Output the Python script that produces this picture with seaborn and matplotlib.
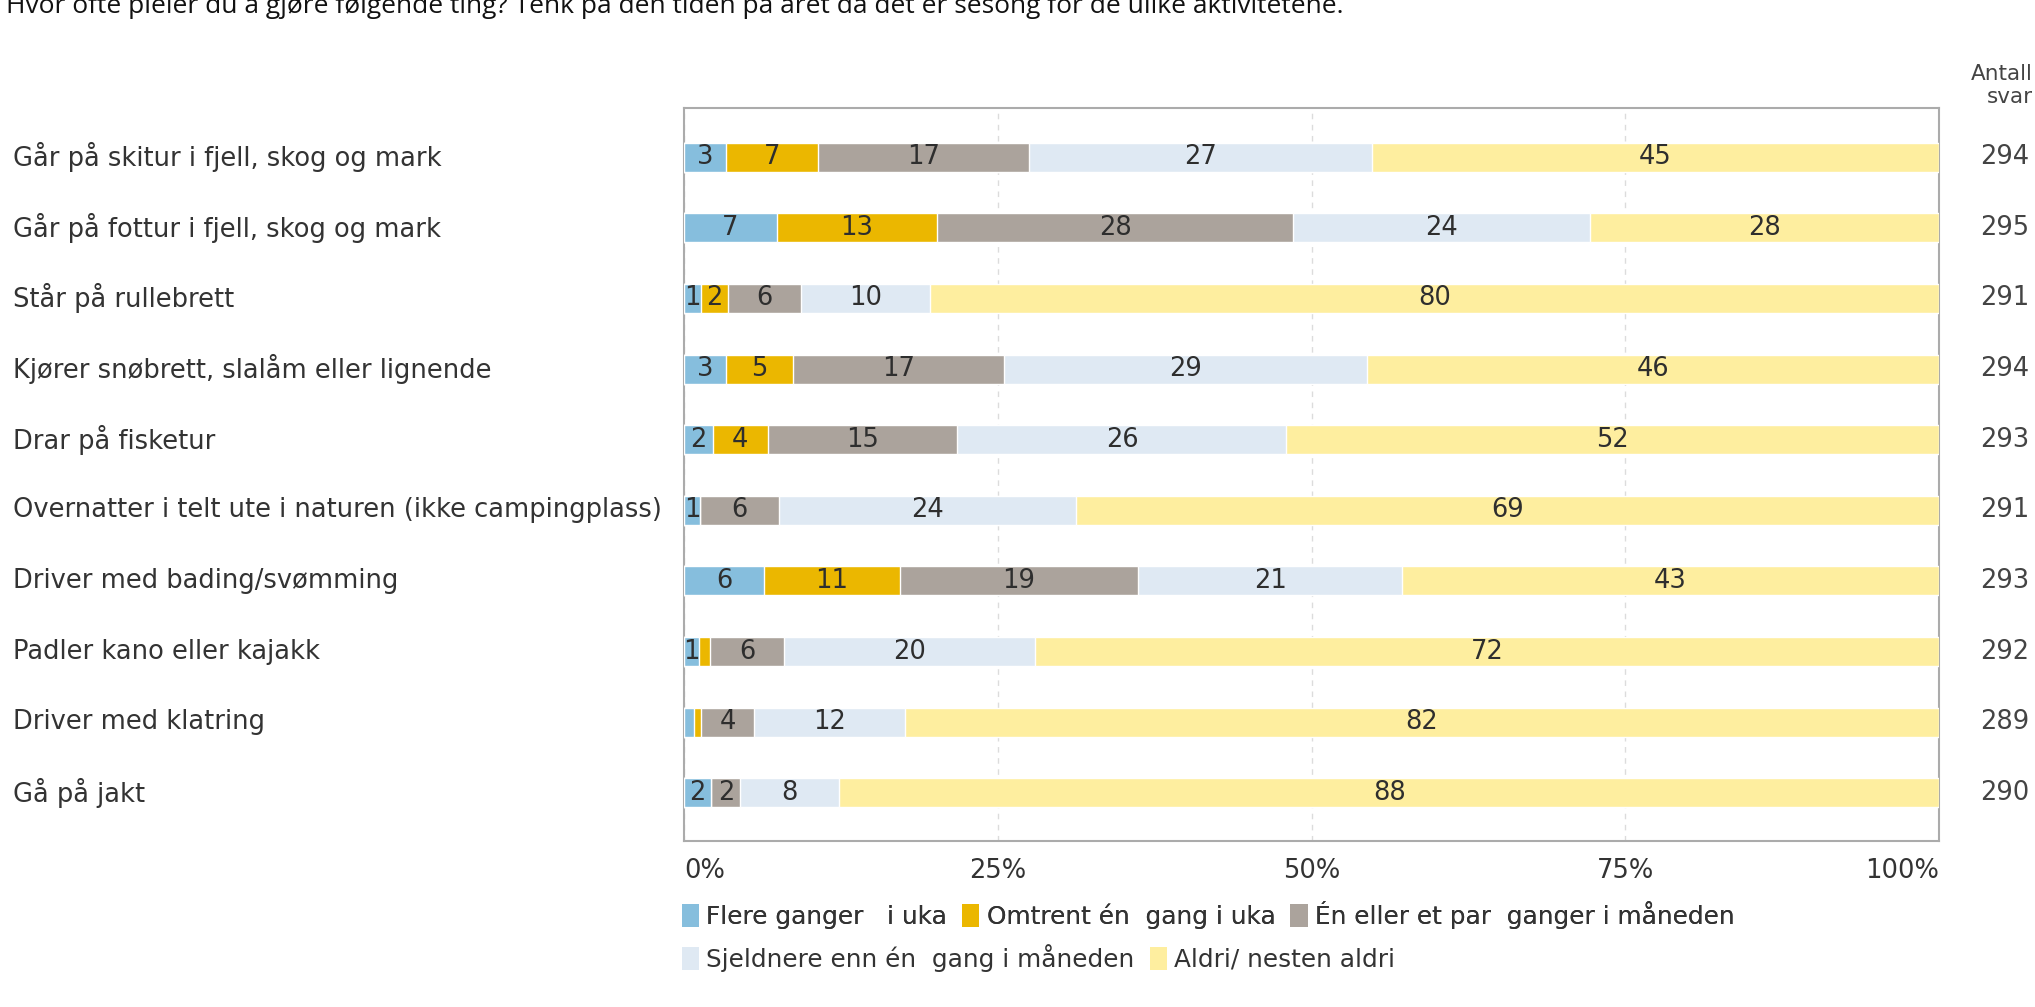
import numpy as np
import pandas as pd
import matplotlib
matplotlib.use("Agg")
import matplotlib.pyplot as plt
import matplotlib.transforms as mtransforms
from matplotlib.patches import Patch
import seaborn as sns

# activities (top to bottom)
activities = [
    "Går på skitur i fjell, skog og mark",
    "Går på fottur i fjell, skog og mark",
    "Står på rullebrett",
    "Kjører snøbrett, slalåm eller lignende",
    "Drar på fisketur",
    "Overnatter i telt ute i naturen (ikke campingplass)",
    "Driver med bading/svømming",
    "Padler kano eller kajakk",
    "Driver med klatring",
    "Gå på jakt",
]

# answer categories (legend order)
answers = [
    "Flere ganger   i uka",
    "Omtrent én  gang i uka",
    "Én eller et par  ganger i måneden",
    "Sjeldnere enn én  gang i måneden",
    "Aldri/ nesten aldri",
]

# shares in percent, one list per answer category
several_week = [3.4, 7.4, 1.35, 3.4, 2.3, 1.3, 6.4, 1.2, 0.8, 2.2]
once_week = [7.3, 12.8, 2.15, 5.3, 4.4, 0.0, 10.8, 0.9, 0.6, 0.0]
month = [16.8, 28.3, 5.8, 16.8, 15.1, 6.3, 19.0, 5.9, 4.2, 2.3]
rarer = [27.3, 23.7, 10.3, 28.9, 26.2, 23.6, 21.0, 20.0, 12.0, 7.9]
never = [45.2, 27.8, 80.4, 45.6, 52.0, 68.8, 42.8, 72.0, 82.4, 87.6]

n_answers = [294, 295, 291, 294, 293, 291, 293, 292, 289, 290]

colors = ["#86BEDD", "#EBB700", "#ABA39C", "#DFE9F3", "#FEEE9F"]

df = pd.DataFrame({"activity": activities})
series = [several_week, once_week, month, rarer, never]
cum = np.cumsum(np.array(series), axis=0)

sns.set_style("white")
plt.rcParams["font.family"] = ["DejaVu Sans"]

fs = 18.5

fig = plt.figure(figsize=(20.35, 10.07), dpi=100)
ax = fig.add_axes([0.336, 0.165, 0.617, 0.728])

# stacked bars: draw cumulative totals, longest first
for k in reversed(range(len(series))):
    df["cum"] = cum[k]
    sns.barplot(data=df, x="cum", y="activity", orient="h", color=colors[k],
                width=0.41, saturation=1, ax=ax, zorder=3)

# value labels in the middle of each segment
for k, vals in enumerate(series):
    left = cum[k] - np.array(vals)
    for i, v in enumerate(vals):
        if v >= 1.0:
            ax.text(left[i] + v / 2, i, f"{v:.0f}", ha="center", va="center",
                    fontsize=fs, color="#2E2E2E", zorder=4)

ax.set_xlim(0, 100)
ax.set_ylim(9.68, -0.7)
ax.set_xticks([0, 25, 50, 75, 100])
ax.set_xticklabels(["0%", "25%", "50%", "75%", "100%"], fontsize=fs, color="#333333")
for lbl, ha in zip(ax.get_xticklabels(), ["left", "center", "center", "center", "right"]):
    lbl.set_ha(ha)
ax.tick_params(axis="x", length=0, pad=12)
ax.set_yticks([])
ax.set_xlabel("")
ax.set_ylabel("")
ax.xaxis.grid(True, linestyle=(0, (4, 4)), color="#DCDCDC", linewidth=1, zorder=0)
ax.set_axisbelow(True)
for sp in ax.spines.values():
    sp.set_visible(True)
    sp.set_color("#ABABAB")
    sp.set_linewidth(1.5)

# category labels left-aligned at the figure edge
trans = mtransforms.blended_transform_factory(fig.transFigure, ax.transData)
for i, name in enumerate(activities):
    fig.text(0.0064, i, name, transform=trans, ha="left", va="center",
             fontsize=fs, color="#333333")
    fig.text(0.997, i, str(n_answers[i]), transform=trans, ha="right", va="center",
             fontsize=fs, color="#444444")

fig.text(0.999, 0.915, "Antall\nsvar", ha="right", va="center", multialignment="right",
         fontsize=15.5, color="#444444", linespacing=1.2)

# title, cut off at the top like the source
fig.text(0.003, 0.987, "Hvor ofte pleier du å gjøre følgende ting? Tenk på den tiden på året "
         "da det er sesong for de ulike aktivitetene.", ha="left", va="baseline",
         fontsize=19, family=["Open Sans", "DejaVu Sans"], color="#111111")

# legend in two rows, flowing like text
handles = [Patch(facecolor=c, edgecolor="none") for c in colors]
leg_kw = dict(loc="center left", frameon=False, fontsize=17.8, handlelength=0.7,
              handleheight=1.0, handletextpad=0.3, columnspacing=0.6, borderpad=0,
              borderaxespad=0, labelcolor="#333333")
leg1 = fig.legend(handles[:3], answers[:3], bbox_to_anchor=(0.335, 0.0914), ncol=3, **leg_kw)
leg2 = fig.legend(handles[3:], answers[3:], bbox_to_anchor=(0.335, 0.0487), ncol=2, **leg_kw)
fig.add_artist(leg1)

fig.savefig("out.png", dpi=100)
